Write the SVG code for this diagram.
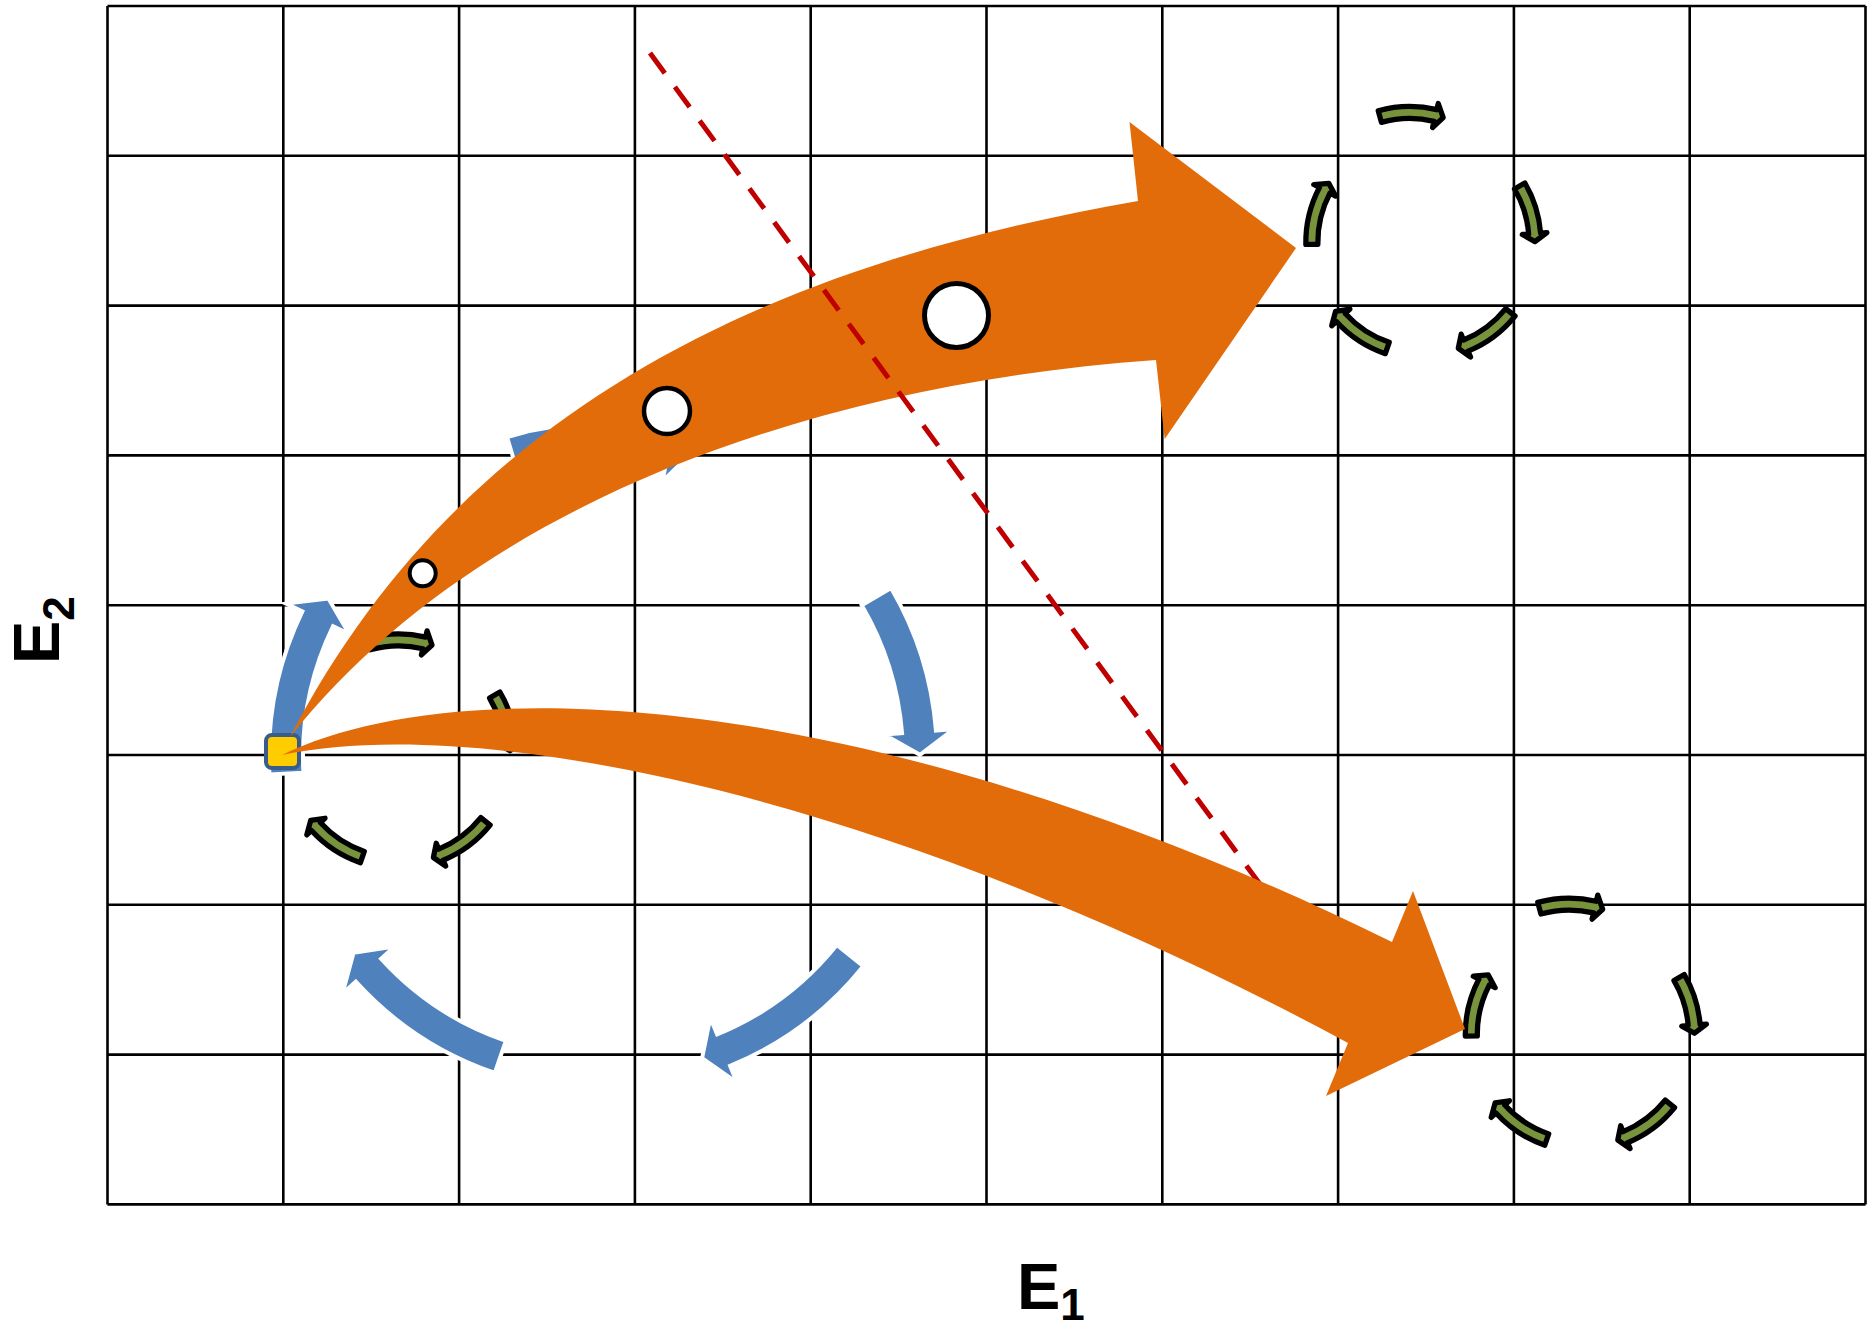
<svg xmlns="http://www.w3.org/2000/svg" width="1868" height="1330" viewBox="0 0 1868 1330">
<style>
.grid line{stroke:#000;stroke-width:2.6}
.blue{fill:#4F81BD;stroke:#fff;stroke-width:4}
.green{fill:#77933C;stroke:#000;stroke-width:15;stroke-linejoin:round}
.orange{fill:#E36C0A}
.dot{fill:#fff;stroke:#000}
.lbl{font-family:"Liberation Sans",Arial,sans-serif;font-weight:bold;fill:#000}
</style>
<defs>
<path id="s33" d="M334,0 A334,334 0 0 1 292.6,161.1 L308.4,169.8 L265.9,172.6 L247,136 L262.8,144.7 A300,300 0 0 0 300,0 Z"/>
<path id="s30" d="M334,0 A334,334 0 0 1 300.6,145.6 L316.8,153.4 L274.5,158.5 L253.8,122.9 L270,130.8 A300,300 0 0 0 300,0 Z"/>
</defs>
<rect width="1868" height="1330" fill="#fff"/>
<g id="grid" class="grid">
<line x1="107.5" y1="6" x2="107.5" y2="1204.4"/>
<line x1="283.3" y1="6" x2="283.3" y2="1204.4"/>
<line x1="459.1" y1="6" x2="459.1" y2="1204.4"/>
<line x1="634.9" y1="6" x2="634.9" y2="1204.4"/>
<line x1="810.7" y1="6" x2="810.7" y2="1204.4"/>
<line x1="986.5" y1="6" x2="986.5" y2="1204.4"/>
<line x1="1162.3" y1="6" x2="1162.3" y2="1204.4"/>
<line x1="1338.1" y1="6" x2="1338.1" y2="1204.4"/>
<line x1="1513.9" y1="6" x2="1513.9" y2="1204.4"/>
<line x1="1689.7" y1="6" x2="1689.7" y2="1204.4"/>
<line x1="1865.5" y1="6" x2="1865.5" y2="1204.4"/>
<line x1="107.5" y1="6" x2="1865.5" y2="6"/>
<line x1="107.5" y1="155.8" x2="1865.5" y2="155.8"/>
<line x1="107.5" y1="305.6" x2="1865.5" y2="305.6"/>
<line x1="107.5" y1="455.4" x2="1865.5" y2="455.4"/>
<line x1="107.5" y1="605.2" x2="1865.5" y2="605.2"/>
<line x1="107.5" y1="755" x2="1865.5" y2="755"/>
<line x1="107.5" y1="904.8" x2="1865.5" y2="904.8"/>
<line x1="107.5" y1="1054.6" x2="1865.5" y2="1054.6"/>
<line x1="107.5" y1="1204.4" x2="1865.5" y2="1204.4"/>
</g>
<g id="blue-cycle" class="blue" transform="translate(603,757)">
<use href="#s33" transform="rotate(177)"/>
<use href="#s33" transform="rotate(253.3)"/>
<use href="#s30" transform="rotate(329.6)"/>
<use href="#s33" transform="rotate(38.8)"/>
<use href="#s33" transform="rotate(108.9)"/>
</g>
<g id="green-cycle-a" class="green" transform="translate(398.5,751.5) scale(0.352)">
<use href="#s33" transform="rotate(254.5)"/>
<use href="#s30" transform="rotate(329.6)"/>
<use href="#s33" transform="rotate(38.8)"/>
<use href="#s33" transform="rotate(108.9)"/>
</g>
<g id="green-cycle-b" class="green" transform="translate(1423.4,242.4) scale(0.352)">
<use href="#s33" transform="rotate(179)"/>
<use href="#s33" transform="translate(-39,-52) rotate(254.5)"/>
<use href="#s30" transform="rotate(329.6)"/>
<use href="#s33" transform="rotate(38.8)"/>
<use href="#s33" transform="rotate(108.9)"/>
</g>
<g id="green-cycle-c" class="green" transform="translate(1582.9,1034) scale(0.352)">
<use href="#s33" transform="rotate(179)"/>
<use href="#s33" transform="translate(-39,-52) rotate(254.5)"/>
<use href="#s30" transform="rotate(329.6)"/>
<use href="#s33" transform="rotate(38.8)"/>
<use href="#s33" transform="rotate(108.9)"/>
</g>
<g id="start-node">
<rect x="266" y="735" width="33" height="33" rx="6" fill="#FFCC00" stroke="#385D8A" stroke-width="4"/>
</g>
<g id="connectors">
<path class="orange" d="M290,737 C470,390 800,260 1138,201 L1129.5,122 L1296,248 L1164.7,439 L1156,360 C800,385 470,510 290,737 Z"/>
<line x1="650" y1="53" x2="1262" y2="887" stroke="#C00000" stroke-width="5" stroke-dasharray="25 17"/>
<path class="orange" d="M282,755 C450,672 860,680 1392,942 L1413,891 L1465,1029 L1326,1096 L1348,1043 C870,785 470,715 282,755 Z"/>
</g>
<g id="point-small"><circle class="dot" cx="422.7" cy="573.3" r="13" stroke-width="4"/></g>
<g id="point-medium"><circle class="dot" cx="667" cy="411" r="23" stroke-width="4.5"/></g>
<g id="point-large"><circle class="dot" cx="956.5" cy="315.5" r="32" stroke-width="5"/></g>
<g id="axis-labels" class="lbl">
<text x="1017" y="1309" font-size="65">E<tspan font-size="44" dy="11">1</tspan></text>
<text transform="translate(58.5,664) rotate(-90)" font-size="65">E<tspan font-size="44" dy="15">2</tspan></text>
</g>
</svg>
